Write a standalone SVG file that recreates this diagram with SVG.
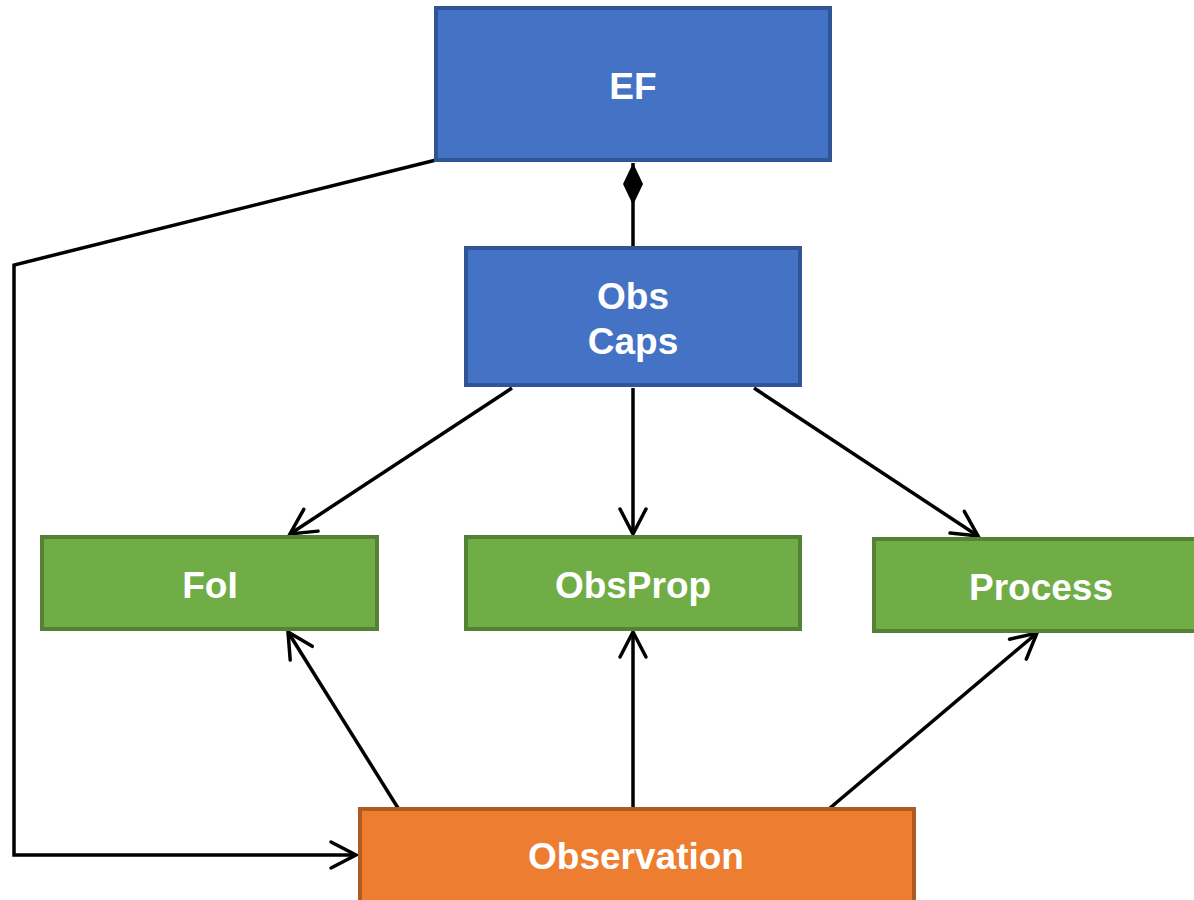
<svg xmlns="http://www.w3.org/2000/svg" width="1194" height="900" viewBox="0 0 1194 900">
<style>
.blue{fill:#4472C4;stroke:#2F5597;stroke-width:4}
.green{fill:#70AD47;stroke:#548235;stroke-width:4}
.orange{fill:#ED7D31;stroke:#AE5A21;stroke-width:4}
.lbl{font-family:"Liberation Sans",Arial,sans-serif;font-weight:bold;font-size:37px;fill:#FFFFFF;text-anchor:middle}
.conn{fill:none;stroke:#000000;stroke-width:3.5}
</style>
<defs>
<marker id="arrow" markerUnits="userSpaceOnUse" markerWidth="40" markerHeight="40" viewBox="-30 -20 40 40" refX="0" refY="0" orient="auto">
<path d="M-25,-13 L0,0 L-25,13" fill="none" stroke="#000" stroke-width="3.5" stroke-linecap="round" stroke-linejoin="miter"/>
</marker>
<marker id="diamond" markerUnits="userSpaceOnUse" markerWidth="50" markerHeight="30" viewBox="-46 -12 50 24" refX="0" refY="0" orient="auto">
<path d="M0,0 L-21,-10 L-42,0 L-21,10 Z" fill="#000"/>
</marker>
</defs>
<g id="connectors">
<path class="conn" d="M633,247 L633,163" marker-end="url(#diamond)"/>
<path class="conn" d="M512,388 L290,534" marker-end="url(#arrow)"/>
<path class="conn" d="M633,388 L633,534" marker-end="url(#arrow)"/>
<path class="conn" d="M754,388 L978,536" marker-end="url(#arrow)"/>
<path class="conn" d="M398,808 L288,632" marker-end="url(#arrow)"/>
<path class="conn" d="M633,808 L633,632" marker-end="url(#arrow)"/>
<path class="conn" d="M830,808 L1037,633" marker-end="url(#arrow)"/>
<path class="conn" d="M436,160 L14,265 L14,855 L356,855" marker-end="url(#arrow)"/>
</g>
<g id="EF">
<rect class="blue" x="436" y="8" width="394" height="152"/>
<text class="lbl" x="633" y="99">EF</text>
</g>
<g id="ObsCaps">
<rect class="blue" x="466" y="248" width="334" height="137"/>
<text class="lbl" x="633" y="309">Obs</text>
<text class="lbl" x="633" y="354">Caps</text>
</g>
<g id="FoI">
<rect class="green" x="42" y="537" width="335" height="92"/>
<text class="lbl" x="210" y="598">FoI</text>
</g>
<g id="ObsProp">
<rect class="green" x="466" y="537" width="334" height="92"/>
<text class="lbl" x="633" y="598">ObsProp</text>
</g>
<g id="Process">
<rect class="green" x="874" y="539" width="330" height="92"/>
<text class="lbl" x="1041" y="600">Process</text>
</g>
<g id="Observation">
<rect class="orange" x="360" y="809" width="554" height="100"/>
<text class="lbl" x="636" y="869">Observation</text>
</g>
</svg>
